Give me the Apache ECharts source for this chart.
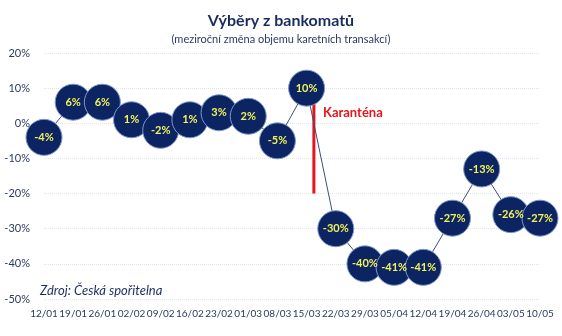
<!DOCTYPE html>
<html>
<head>
<meta charset="utf-8">
<script src="https://cdn.jsdelivr.net/npm/echarts@6/dist/echarts.min.js"></script>
<style>html,body{margin:0;padding:0;background:#fff}#c{width:562px;height:336px}</style>
</head>
<body>
<div id="c"></div>
<script>
// Weekly categories (day/month)
const categories = ['12/01','19/01','26/01','02/02','09/02','16/02','23/02','01/03','08/03','15/03','22/03','29/03','05/04','12/04','19/04','26/04','03/05','10/05'];
// Year-on-year change of ATM withdrawal volume, %
const values = [-4, 6, 6, 1, -2, 1, 3, 2, -5, 10, -30, -40, -41, -41, -27, -13, -26, -27];
// Y axis range and ticks
const yMin = -50, yMax = 20, yStep = 10;
// Quarantine marker: position on the week scale and its vertical span (%)
const quarantineX = 9.25;
const quarantineSpan = [6, -20];

const navy = '#0c2461';
const textColor = '#2c3a63';
const font = 'Lato';

const chart = echarts.init(document.getElementById('c'));
chart.setOption({
  animation: false,
  title: [{
    text: 'Výběry z bankomatů',
    left: 'center', top: 8,
    textStyle: { fontFamily: font, fontSize: 16, fontWeight: 'bold', color: '#1a2b5e' }
  }, {
    text: '(meziroční změna objemu karetních transakcí)',
    left: 'center', top: 29,
    textStyle: { fontFamily: font, fontSize: 11, fontWeight: 'normal', color: textColor }
  }],
  grid: { left: 44, right: 22, top: 53, bottom: 37 },
  xAxis: [{
    type: 'category',
    data: categories,
    boundaryGap: false,
    axisLine: { show: false },
    axisTick: { show: false },
    axisLabel: { color: textColor, fontFamily: font, fontSize: 10, margin: 10, interval: 0 }
  }, {
    type: 'value', min: 0, max: categories.length - 1, show: false
  }],
  yAxis: {
    type: 'value', min: yMin, max: yMax, interval: yStep,
    axisLine: { show: false },
    axisTick: { show: false },
    axisLabel: { color: textColor, fontFamily: font, fontSize: 11, formatter: '{value}%', margin: 14 },
    splitLine: { lineStyle: { color: '#e2e5ee', type: 'dotted', width: 1 } }
  },
  series: [{
    type: 'line',
    xAxisIndex: 1,
    data: quarantineSpan.map(v => [quarantineX, v]),
    symbol: 'none',
    lineStyle: { color: '#e8141c', width: 3 },
    z: 1
  }, {
    type: 'line',
    data: values,
    symbol: 'circle',
    symbolSize: 36,
    lineStyle: { color: '#3d4d7a', width: 1 },
    itemStyle: { color: navy, borderColor: '#7d98cc', borderWidth: 1 },
    label: {
      show: true, position: 'inside',
      formatter: p => p.value + '%',
      color: '#f2f25a', fontFamily: font, fontSize: 11, fontWeight: 'bold'
    },
    z: 3
  }],
  graphic: [{
    type: 'text', left: 323, top: 106,
    style: { text: 'Karanténa', fill: '#e8141c', font: 'bold 13px Lato' }
  }, {
    type: 'text', left: 40, top: 284,
    style: { text: 'Zdroj: Česká spořitelna', fill: '#1f2d5e', font: 'italic 13px Lato' }
  }]
});
</script>
</body>
</html>
